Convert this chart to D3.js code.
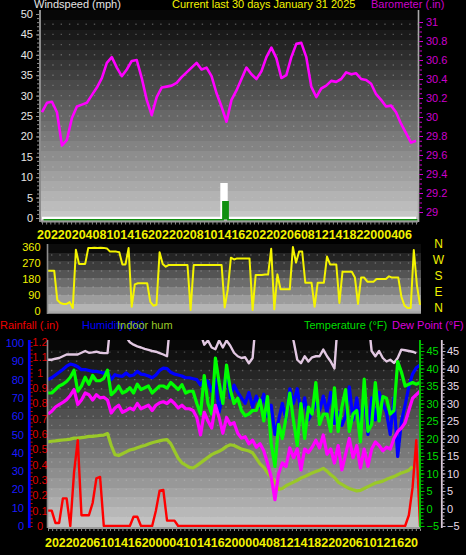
<!DOCTYPE html>
<html><head><meta charset="utf-8">
<script src="https://cdn.jsdelivr.net/npm/d3@7"></script>
<style>
html,body{margin:0;padding:0;background:#000;}
svg{display:block;font-family:"Liberation Sans",Arial,sans-serif;}
</style></head><body>
<svg id="c" width="466" height="555"></svg>
<script>
// ---------------- DATA ----------------
// barometer, every 0.4 day over 30 days
const barometer = [30.05,30.15,30.16,30.05,29.70,29.76,29.99,30.11,30.13,30.15,30.23,30.31,30.41,30.57,30.63,30.52,30.43,30.50,30.59,30.60,30.41,30.18,30.02,30.21,30.31,30.32,30.33,30.36,30.42,30.47,30.52,30.57,30.50,30.52,30.43,30.25,30.11,29.95,30.18,30.28,30.40,30.52,30.45,30.40,30.48,30.63,30.73,30.62,30.41,30.44,30.63,30.77,30.78,30.63,30.32,30.21,30.30,30.33,30.38,30.37,30.40,30.47,30.45,30.46,30.40,30.39,30.35,30.24,30.18,30.11,30.12,30.05,29.93,29.83,29.73,29.75];
// wind speed (mph), every 0.4 day
const windGust = [0,0,0,0,0,0,0,0,0,0, 0,0,0,0,0,0,0,0,0,0, 0,0,0,0,0,0,0,0,0,0, 0,0,0,0,0,0,8.3,0,0,0, 0,0,0,0,0,0,0,0,0,0, 0,0,0,0,0,0,0,0,0,0, 0,0,0,0,0,0,0,0,0,0, 0,0,0,0,0,0];
const windAvg  = [0,0,0,0,0,0,0,0,0,0, 0,0,0,0,0,0,0,0,0,0, 0,0,0,0,0,0,0,0,0,0, 0,0,0,0,0,0,4.4,0,0,0, 0,0,0,0,0,0,0,0,0,0, 0,0,0,0,0,0,0,0,0,0, 0,0,0,0,0,0,0,0,0,0, 0,0,0,0,0,0];
// wind direction (deg), every 0.25 day
const windDir = [227,227,227,62,45,39,40,50,17,345, 265,265,265,355,355,356,355,356,355,352, 334,335,334,330,262,262,354,24,150,156, 156,156,156,52,30,35,330,265,249,259, 259,259,259,259,259,259,6,259,259,259, 259,259,259,259,259,259,259,20,120,300, 290,296,296,296,296,296,6,203,203,203, 205,205,350,10,206,122,122,122,122,360, 272,334,334,159,159,159,24,159,159,159, 306,262,262,262,45,221,221,221,221,188, 40,188,188,165,165,165,180,180,180,180, 195,188,188,188,80,30,17,17,343,146, 34];
// bottom panel series, every 0.3 day
const temperature = [33,33,34,35,35.5,36.3,37.5,39.5,33.5,35, 37.5,35.5,38,36.5,36.5,37.2,39.5,32.5,33.5,35, 33,33.5,34.5,33,35.5,34,34.5,35,33,34, 35,35,34.4,36,35,34,35.4,33,33.5,33.5, 30,27,38,30,27,43,36,30,41,34, 30,31.5,28,26.5,27,28,28,31,25,32, 18.5,12,24,20,26,33,25,18,30,20, 29,27,36,24,27,27,22,34.5,22,29, 34,22,27,28,19,37,22,24,36,25, 32,31.5,27,28,42,39,35,35.5,36,35.5, 36];
const humidity = [80,81,82.5,84,85.5,87.3,88.5,88,87,85.4, 85.5,85,84.5,84.5,84,83.5,84.5,80,82.7,82, 81.8,83.6,82,82.5,84.5,83,82.7,82,81,82.5, 85,86.3,86,84,83,82.5,82,81,81,80.5, 80,77,80,79,73.6,80,62,72,85,70, 77,73,70,67,73,65,71,65,72,60, 66,50,58,67,58,75,67,75,62,70, 58,62,67,63,71,62,73,56,62,55, 60,76,58,70,56,72,50,70,58,73, 67,62,50,70,38,57,66,76,83,86.5, 88];
const dewPoint = [27,27.8,29,29.7,30.3,31.1,32.3,34,29.7,31, 33,32.5,31,32.5,31.6,31.8,31,27.3,28.7,29.5, 27.5,28,28.7,28.2,30,28.5,29,29.5,28,29.5, 30.2,30.5,30,31,30,28.7,29.5,28.5,28.5,28, 26,21,27.5,25,23,29.5,26,21.5,26,24, 24.5,21.5,20.1,20.5,18.5,19.5,17.5,18.5,16.5,13, 9,2.5,10,13,12,17.3,14.5,17,11,17, 16,17.5,19.5,17.3,21,15.5,17,13,18,11, 15.5,20,14.5,18,11.6,17,12,17,19,18, 16.5,17.5,17,20,22,23,24.5,28,31.5,32.5, 33.5];
const indoorHum = [46,46.3,46.5,46.8,47,47.2,47.5,48,48,48.3, 48.6,49,49,49.2,49.5,49.7,50.5,44,39,38.5, 39.5,40.5,41.5,42,42.8,43.5,44,44.8,45.5,46, 46.5,47,47.2,45,41,37,34.5,33.3,32,31.7, 33,34.5,36,37.5,39,40,40.8,42,43.5,44.4, 44,43,42,41.5,41,40,37,34,32,29, 26.5,24,20,20.5,22,23,24,25,26.2,27, 28,29,29.8,30.5,31.5,30,28,26.5,24,22.8, 21.5,20.5,19.8,19.2,19.5,20.5,21.5,22.5,23.5,24, 24.5,25.5,26.3,27,28,29,29.6,30.5,32.5];
const indoorTemp = [42.5,42.5,42.8,43,43.5,44,44,44,44,44.5, 45,44.5,44.6,44.8,44.5,44.4,44.4,55,55,55, 55,49,47.5,46.8,46.3,46,45.6,45.3,45,44.8, 44.4,44,43.5,55,55,55,55,55,55,55, 55,50,46.8,48,46,45.5,48,46,48,46.5, 44.5,43.5,43,43.2,41.5,43,55,55,55,55, 55,55,55,55,55,55,48,42.5,41.5,43.5, 42,43.2,43.5,43.5,45.4,43.5,42,40,55,55, 55,55,55,55,55,55,55,45,43.5,45, 43,42,42.5,41.6,43,45.4,45.2,45,44.8,44.4];
const rainfall = [0.1,0.1,0.02,0.02,0.18,0.18,0,0.35,0.56,0.07, 0.07,0.07,0.15,0.31,0.32,0,0,0,0,0, 0,0,0,0.06,0.06,0,0,0,0,0.1, 0.23,0.235,0.035,0.035,0.035,0,0,0,0,0, 0,0,0,0,0,0,0,0,0,0, 0,0,0,0,0,0,0,0,0,0, 0,0,0,0,0,0,0,0,0,0, 0,0,0,0,0,0,0,0,0,0, 0,0,0,0,0,0,0,0,0,0, 0,0,0,0,0,0,0,0.07,0.25,0.56, 0];
const topTickLabels = ["20","22","02","04","08","10","14","16","20","22","02","08","10","14","16","20","22","02","06","08","12","14","18","22","00","04","06"];
const bottomTickLabels = ["20","22","02","06","10","14","16","20","00","04","10","14","16","20","00","04","08","12","14","18","22","02","06","10","12","16","20"];
const windTicks = [0,5,10,15,20,25,30,35,40,45,50];
const baroTicks = [29,29.2,29.4,29.6,29.8,30,30.2,30.4,30.6,30.8,31];
const dirTicks = [0,90,180,270,360];
const dirNames = ["N","E","S","W","N"];
const humTicks = [0,10,20,30,40,50,60,70,80,90,100];
const rainTicks = [0,0.1,0.2,0.3,0.4,0.5,0.6,0.7,0.8,0.9,1,1.1,1.2];
const tempTicks = [-5,0,5,10,15,20,25,30,35,40,45];
const DAYS = 30;

// ---------------- CHART ----------------
const svg = d3.select("#c");
const defs = svg.append("defs");
const P1 = {l:41, r:418, t:10, b:221};
const P2 = {l:48, r:421, t:244, b:312};
const P3 = {l:48, r:420, t:340, b:527};

function bandGrad(id, p, c0, c1, n){
  const g = defs.append("linearGradient").attr("id", id).attr("gradientUnits","userSpaceOnUse")
    .attr("x1",0).attr("x2",0).attr("y1",p.t).attr("y2",p.b);
  const it = d3.interpolateRgb(c0, c1);
  for (let k=0;k<n;k++){
    const c = it(k/(n-1));
    g.append("stop").attr("offset",k/n).attr("stop-color",c);
    g.append("stop").attr("offset",(k+1)/n).attr("stop-color",c);
  }
}
bandGrad("g1", P1, "#070707", "#c6c6c6", 21);
bandGrad("g2", P2, "#0c0c0c", "#b4b4b4", 8);
bandGrad("g3", P3, "#070707", "#c2c2c2", 19);
[["c1",P1],["c2",P2],["c3",P3]].forEach(([id,p])=>{
  defs.append("clipPath").attr("id",id).append("rect").attr("x",p.l).attr("y",p.t).attr("width",p.r-p.l).attr("height",p.b-p.t);
});
[["g1",P1],["g2",P2],["g3",P3]].forEach(([id,p])=>{
  svg.append("rect").attr("x",p.l).attr("y",p.t).attr("width",p.r-p.l).attr("height",p.b-p.t).attr("fill",`url(#${id})`);
});

const xTop = d3.scaleLinear([0,DAYS],[42,416]);
const xBot = d3.scaleLinear([0,DAYS],[48,420]);
const yWind = d3.scaleLinear([0,50],[218,14]);
const yBaro = d3.scaleLinear([29,31],[212,22]);
const yDir = d3.scaleLinear([0,360],[311,247]);
const yHum = d3.scaleLinear([0,100],[526,343]);
const yRain = d3.scaleLinear([0,1.2],[526,342]);
const yTemp = d3.scaleLinear([-5,45],[526,351]);

const dotStyle = sel => sel.attr("stroke","rgba(200,200,200,0.33)").attr("stroke-width",1.4).attr("stroke-dasharray","1.4 6.9");
// grids
svg.append("g").selectAll("line").data(d3.range(2.5,50,2.5)).join("line")
  .attr("x1",P1.l+3).attr("x2",P1.r).attr("y1",d=>yWind(d)).attr("y2",d=>yWind(d)).call(dotStyle);
svg.append("g").selectAll("line").data(d3.range(45,360,45)).join("line")
  .attr("x1",P2.l+3).attr("x2",P2.r).attr("y1",d=>yDir(d)).attr("y2",d=>yDir(d)).call(dotStyle);
svg.append("g").selectAll("line").data(d3.range(5,100,5)).join("line")
  .attr("x1",P3.l+3).attr("x2",P3.r).attr("y1",d=>yHum(d)).attr("y2",d=>yHum(d)).call(dotStyle);

// ---- top panel
const topG = svg.append("g").attr("clip-path","url(#c1)");
const bStep = DAYS/(barometer.length-1);
topG.append("path").datum(windGust)
  .attr("d", d3.area().x((d,i)=>xTop(i*bStep)).y0(yWind(0)).y1(d=>yWind(d)).curve(d3.curveStepAfter))
  .attr("fill","#ffffff");
topG.append("path").datum(windGust)
  .attr("d", d3.line().x((d,i)=>xTop(i*bStep)).y(d=>yWind(d)).curve(d3.curveStepAfter))
  .attr("fill","none").attr("stroke","#ffffff").attr("stroke-width",2.4);
topG.append("path").datum(windAvg)
  .attr("d", d3.area().x((d,i)=>xTop(i*bStep)).y0(yWind(0)).y1(d=>yWind(d)).curve(d3.curveStepAfter))
  .attr("fill","#109010").attr("transform","translate(1.5,1.5)");
topG.append("path").datum(windAvg)
  .attr("d", d3.line().x((d,i)=>xTop(i*bStep)).y(d=>yWind(d)).curve(d3.curveStepAfter))
  .attr("fill","none").attr("stroke","#109010").attr("stroke-width",1.8).attr("transform","translate(1.5,1.8)");
topG.append("path").datum(barometer)
  .attr("d", d3.line().x((d,i)=>xTop(i*bStep)).y(d=>yBaro(d)))
  .attr("fill","none").attr("stroke","#ff00ff").attr("stroke-width",2.6).attr("stroke-linejoin","round");

// top axes
function styleAxis(g, lineColor, textColor, size){
  g.select(".domain").remove();
  g.selectAll(".tick line").attr("stroke",lineColor);
  g.selectAll(".tick text").attr("fill",textColor).style("font-size",(size||11)+"px").style("font-family","'Liberation Sans',Arial,sans-serif");
}
svg.append("line").attr("x1",40).attr("x2",40).attr("y1",P1.t).attr("y2",P1.b+1).attr("stroke","#8c8c8c").attr("stroke-width",2);
svg.append("g").attr("transform","translate(39,0)").call(d3.axisLeft(yWind).tickValues(d3.range(0,51,1)).tickSize(2).tickFormat(""))
  .call(g=>styleAxis(g,"#8c8c8c","#fff"));
svg.append("g").attr("transform","translate(39,0)").call(d3.axisLeft(yWind).tickValues(windTicks).tickSize(3).tickPadding(3))
  .call(g=>styleAxis(g,"#8c8c8c","#e6e6e6"));
svg.append("line").attr("x1",418.5).attr("x2",418.5).attr("y1",P1.t).attr("y2",P1.b+1).attr("stroke","#a8a8a8").attr("stroke-width",1.6);
svg.append("g").attr("transform","translate(419.5,0)").call(d3.axisRight(yBaro).tickValues(d3.range(29,31.001,0.05)).tickSize(2.5).tickFormat(""))
  .call(g=>styleAxis(g,"#cc00cc","#cc00cc"));
svg.append("g").attr("transform","translate(419.5,0)").call(d3.axisRight(yBaro).tickValues(baroTicks).tickSize(3.5).tickPadding(3).tickFormat(d=>String(+d.toFixed(1))))
  .call(g=>styleAxis(g,"#cc00cc","#cc00cc"));
svg.append("line").attr("x1",P1.l).attr("x2",P1.r).attr("y1",221.5).attr("y2",221.5).attr("stroke","#9a9a9a").attr("stroke-width",1.8);
svg.append("g").attr("transform","translate(0,222)").call(d3.axisBottom(xTop).tickValues(d3.range(0,DAYS+0.01,1/3)).tickSize(2.5).tickFormat(""))
  .call(g=>styleAxis(g,"#8a8a8a","#fff"));

// x labels
function xLabels(labels, x0, x1, y){
  const b = d3.scaleBand().domain(d3.range(labels.length)).range([x0,x1]);
  svg.append("g").selectAll("text").data(labels).join("text")
    .attr("x",(d,i)=>b(i)+b.bandwidth()/2).attr("y",y).attr("text-anchor","middle")
    .attr("fill","#f2f200").style("font-weight","bold").style("font-size","12.5px").text(d=>d);
}
xLabels(topTickLabels, 37, 412, 239);
xLabels(bottomTickLabels, 45, 418, 546.5);

// ---- direction panel
const dStep = DAYS/(windDir.length-1);
svg.append("g").attr("clip-path","url(#c2)").append("path").datum(windDir)
  .attr("d", d3.line().x((d,i)=>xBot(i*dStep)).y(d=>yDir(d)))
  .attr("fill","none").attr("stroke","#f4f400").attr("stroke-width",2).attr("stroke-linejoin","round");
svg.append("line").attr("x1",47.5).attr("x2",47.5).attr("y1",P2.t).attr("y2",P2.b+2).attr("stroke","#8c8c8c").attr("stroke-width",1.6);
svg.append("g").attr("transform","translate(47,0)").call(d3.axisLeft(yDir).tickValues(dirTicks).tickSize(0).tickPadding(6.5))
  .call(g=>styleAxis(g,"#8c8c8c","#f2f200"));
svg.append("line").attr("x1",P2.l).attr("x2",P2.r).attr("y1",312.5).attr("y2",312.5).attr("stroke","#a8a8a8").attr("stroke-width",2.4);
svg.append("g").selectAll("text").data(dirTicks).join("text")
  .attr("x",438.5).attr("y",d=>yDir(d)).attr("dy","0.1em").attr("text-anchor","middle")
  .attr("fill","#f2f200").style("font-size","12px").text((d,i)=>dirNames[i]);

// ---- bottom panel
const s3 = svg.append("g").attr("clip-path","url(#c3)");
const st = DAYS/(temperature.length-1);
function series(data, y, color, w){
  s3.append("path").datum(data)
    .attr("d", d3.line().x((d,i)=>xBot(i*st)).y(d=>y(d)))
    .attr("fill","none").attr("stroke",color).attr("stroke-width",w).attr("stroke-linejoin","round");
}
series(indoorTemp, yTemp, "#e2c8e2", 2.4);
series(indoorHum, yHum, "#9ac828", 3.2);
series(humidity, yHum, "#0000ff", 3.2);
series(temperature, yTemp, "#00ff00", 3.2);
series(dewPoint, yTemp, "#ff00ff", 3.2);
series(rainfall, yRain, "#ff0000", 2.4);

svg.append("line").attr("x1",47.5).attr("x2",47.5).attr("y1",P3.t).attr("y2",P3.b+1).attr("stroke","#8c8c8c").attr("stroke-width",1.6);
svg.append("line").attr("x1",29.3).attr("x2",29.3).attr("y1",P3.t).attr("y2",P3.b+1).attr("stroke","#0000ff").attr("stroke-width",2.8);
svg.append("g").attr("transform","translate(28,0)").call(d3.axisLeft(yHum).tickValues(humTicks).tickSize(0).tickPadding(4))
  .call(g=>styleAxis(g,"#0000ff","#1c1cff"));
svg.append("g").attr("transform","translate(30.5,0)").call(d3.axisRight(yRain).tickValues(d3.range(0,1.2001,0.025)).tickSize(2.2).tickFormat(""))
  .call(g=>styleAxis(g,"#cc0000","#cc0000"));
const rg = svg.append("g");
rg.selectAll("text").data(rainTicks).join("text")
  .attr("x",40).attr("y",d=>yRain(d)).attr("dy","0.35em").attr("text-anchor","middle")
  .attr("fill","#dd0000").style("font-size","11px").text(d=>String(+d.toFixed(1)));
svg.append("line").attr("x1",420).attr("x2",420).attr("y1",P3.t).attr("y2",P3.b+1).attr("stroke","#00d000").attr("stroke-width",1.8);
svg.append("g").attr("transform","translate(421,0)").call(d3.axisRight(yTemp).tickValues(d3.range(-5,48,1)).tickSize(2.5).tickFormat(""))
  .call(g=>styleAxis(g,"#00c000","#00c000"));
svg.append("g").attr("transform","translate(421,0)").call(d3.axisRight(yTemp).tickValues(tempTicks).tickSize(3.5).tickPadding(2))
  .call(g=>styleAxis(g,"#00c000","#00dd00"));
svg.append("line").attr("x1",441.8).attr("x2",441.8).attr("y1",P3.t).attr("y2",P3.b+1).attr("stroke","#d8c8d8").attr("stroke-width",1.8);
svg.append("g").attr("transform","translate(442.5,0)").call(d3.axisRight(yTemp).tickValues(d3.range(-5,48,1)).tickSize(2).tickFormat(""))
  .call(g=>styleAxis(g,"#bcaebc","#ddd"));
svg.append("g").attr("transform","translate(442.5,0)").call(d3.axisRight(yTemp).tickValues(tempTicks).tickSize(3).tickPadding(1.5))
  .call(g=>styleAxis(g,"#bcaebc","#e8dce8"));
svg.append("line").attr("x1",P3.l).attr("x2",P3.r).attr("y1",528).attr("y2",528).attr("stroke","#9a9a9a").attr("stroke-width",1.8);
svg.append("g").attr("transform","translate(0,528.5)").call(d3.axisBottom(xBot).tickValues(d3.range(0,DAYS+0.01,1/3)).tickSize(2.5).tickFormat(""))
  .call(g=>styleAxis(g,"#8a8a8a","#fff"));

// ---- titles / legends
const T = (x,y,txt,color)=>svg.append("text").attr("x",x).attr("y",y).attr("fill",color).style("font-size","11px").text(txt);
T(34,7.5,"Windspeed (mph)","#e4e4e4");
T(172,7.5,"Current last 30 days January 31 2025","#f4f400");
T(371,7.5,"Barometer (.in)","#cc00cc");
T(0,329,"Rainfall (.in)","#ee0000");
T(82,329,"Humidity (%)","#0000ff");
T(117,329,"Indoor hum","#99c828");
T(304,329,"Temperature (°F)","#00dd00");
T(392,329,"Dew Point (°F)","#dd00dd");
</script>
</body></html>
